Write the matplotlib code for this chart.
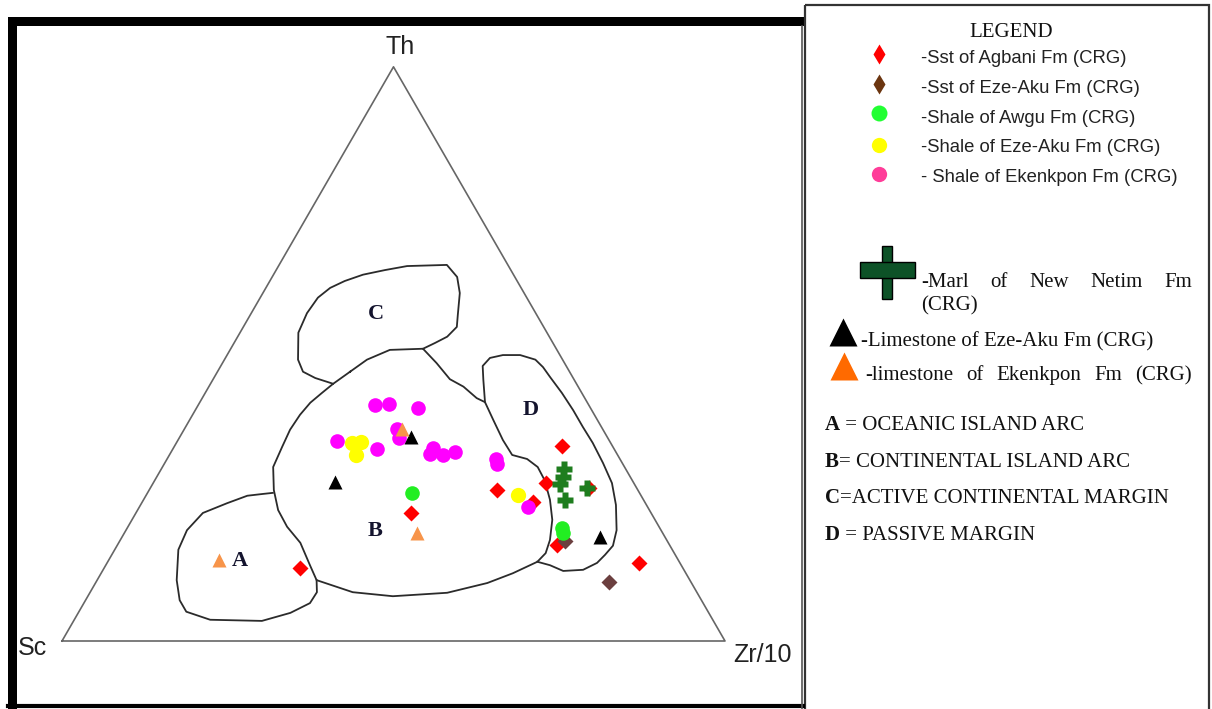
import numpy as np
import matplotlib.pyplot as plt
from matplotlib.patches import Rectangle

plt.rcParams['font.family'] = ['Liberation Sans', 'DejaVu Sans']

### sample compositions, percent of (Th, Sc, Zr/10)
agbani_th = [12.7, 22.3, 26.3, 24.2, 27.5, 34.0, 26.7, 16.7, 13.6]
agbani_sc = [57.8, 36.2, 21.2, 16.9, 13.2, 7.6, 7.1, 17.0, 6.2]
agbani_zr = [29.5, 41.5, 52.5, 58.9, 59.3, 58.4, 66.2, 66.3, 80.2]

ezeaku_sst_th = [10.3, 17.4]
ezeaku_sst_sc = [12.3, 15.4]
ezeaku_sst_zr = [77.4, 67.2]

awgu_th = [25.8, 19.7, 18.8]
awgu_sc = [34.3, 14.7, 15.0]
awgu_zr = [39.9, 65.6, 66.2]

ezeaku_sh_th = [34.5, 34.7, 32.4, 25.4]
ezeaku_sh_sc = [39.0, 37.6, 39.5, 18.5]
ezeaku_sh_zr = [26.5, 27.7, 28.1, 56.1]

ekenkpon_sh_th = [41.1, 41.3, 40.6, 34.8, 33.4, 36.9, 35.4, 33.6, 32.6, 32.4, 32.9, 31.7, 30.8, 23.3]
ekenkpon_sh_sc = [32.3, 30.0, 26.0, 41.1, 35.8, 31.0, 31.5, 27.2, 28.2, 26.3, 24.3, 18.7, 19.0, 18.0]
ekenkpon_sh_zr = [26.6, 28.7, 33.4, 24.1, 30.8, 32.1, 33.1, 39.2, 39.2, 41.3, 42.8, 49.6, 50.2, 58.6]

marl_th = [30.0, 28.6, 27.4, 24.6, 26.7]
marl_sc = [9.3, 10.1, 11.2, 11.8, 7.5]
marl_zr = [60.7, 61.3, 61.4, 63.6, 65.8]

ezeaku_lst_th = [35.5, 27.7, 18.1]
ezeaku_lst_sc = [29.6, 45.0, 9.8]
ezeaku_lst_zr = [34.9, 27.3, 72.1]

ekenkpon_lst_th = [36.9, 18.8, 14.1]
ekenkpon_lst_sc = [30.3, 37.1, 69.3]
ekenkpon_lst_zr = [32.8, 44.1, 16.6]

### field boundaries, (Th, Zr/10) percent, Sc is the rest
field_b = [(46.9, 20.0), (49.0, 21.5), (50.7, 24.1), (50.9, 29.0), (48.4, 32.3), (45.6, 35.7),
           (44.3, 38.4), (42.3, 41.4), (41.6, 43.0), (38.5, 45.8), (35.0, 49.0), (32.4, 51.7),
           (31.7, 54.3), (30.3, 56.6), (28.0, 58.8), (24.6, 61.3), (21.1, 63.4), (17.6, 64.8),
           (15.3, 65.3), (13.8, 64.8), (11.8, 62.1), (10.1, 59.1), (8.4, 53.9), (7.8, 46.0),
           (8.5, 39.6), (10.6, 33.1), (13.2, 30.8), (17.1, 27.4), (19.9, 24.0), (22.8, 21.2),
           (26.3, 18.8), (30.3, 16.7), (33.8, 16.3), (36.8, 16.0), (39.4, 16.2), (41.5, 16.7),
           (43.2, 17.6), (44.8, 18.5), (46.9, 20.0)]
field_c = [(44.8, 18.5), (45.8, 15.3), (46.9, 12.9), (49.0, 11.1), (53.7, 8.8), (57.1, 8.4),
           (59.8, 8.7), (61.5, 9.7), (62.7, 11.3), (63.8, 13.5), (64.6, 16.4), (65.3, 19.4),
           (65.5, 25.3), (63.4, 27.9), (60.6, 29.7), (56.8, 31.3), (54.7, 32.2), (53.0, 31.6),
           (51.9, 30.3), (50.9, 29.0)]
field_a = [(25.8, 18.9), (25.6, 17.4), (25.3, 15.3), (24.0, 12.9), (22.3, 10.1), (19.3, 9.2),
           (15.9, 9.6), (10.6, 12.0), (7.1, 14.2), (5.1, 16.2), (3.7, 20.5), (3.5, 28.4),
           (4.9, 32.0), (6.6, 34.1), (8.5, 34.2), (10.6, 33.1)]
field_d = [(41.6, 43.0), (45.5, 40.8), (47.9, 39.5), (49.3, 39.9), (49.8, 41.6), (49.8, 44.2),
           (49.0, 46.9), (47.7, 48.7), (46.0, 50.6), (43.2, 53.8), (40.2, 57.0), (37.3, 59.9),
           (34.5, 62.8), (31.0, 66.1), (27.5, 69.2), (23.7, 71.7), (19.3, 74.0), (16.6, 74.8),
           (15.0, 74.4), (13.6, 73.9), (12.4, 72.4), (12.2, 69.5), (13.2, 67.0), (13.8, 64.8)]
field_labels = ['A', 'B', 'C', 'D']
field_label_pos = [(13.9, 19.9), (19.2, 37.6), (57.0, 18.9), (40.2, 50.6)]


def tern(th, sc, zr):
    th, sc, zr = (np.asarray(v, float) for v in (th, sc, zr))
    tot = th + sc + zr
    return 100 * (zr + th / 2) / tot, 100 * th * np.sqrt(3) / 2 / tot


def field_xy(pts):
    th, zr = np.array(pts, float).T
    return tern(th, 100 - th - zr, zr)


fig = plt.figure(figsize=(12.12, 7.09), dpi=100)

# overlay in pixel units for frames and legend
lax = fig.add_axes([0, 0, 1, 1])
lax.set_xlim(0, 1212)
lax.set_ylim(709, 0)
lax.axis('off')

# ternary axes, 6.63 px per unit, Sc corner at pixel (62, 641)
ax = fig.add_axes([0, 0, 1, 1])
ax.axis('off')
s = 6.63
ax.set_xlim(-62 / s, (1212 - 62) / s)
ax.set_ylim(-68 / s, (709 - 68) / s)

### frames
lax.add_patch(Rectangle((8, 17), 796, 9, color='black', lw=0))
lax.add_patch(Rectangle((8, 17), 9, 700, color='black', lw=0))
lax.plot([8, 803], [706, 706], color='black', lw=3)
lax.plot([802, 802], [26, 709], color='#555555', lw=1.2)
lax.add_patch(Rectangle((805, 5), 404, 720, fill=False, ec='#333333', lw=1.6))

### triangle
tx, ty = tern([0, 0, 100, 0], [100, 0, 0, 100], [0, 100, 0, 0])
ax.plot(tx, ty, color='#666666', lw=1.2)
ax.annotate('Th', (tx[2], ty[2]), xytext=(5, 9.5), textcoords='offset points',
            ha='center', va='baseline', fontsize=18, color='#222222')
ax.annotate('Sc', (tx[0], ty[0]), xytext=(-10.5, -10), textcoords='offset points',
            ha='right', va='baseline', fontsize=18, color='#222222')
ax.annotate('Zr/10', (tx[1], ty[1]), xytext=(6, -15), textcoords='offset points',
            ha='left', va='baseline', fontsize=18, color='#222222')

### fields
for f in (field_b, field_c, field_a, field_d):
    fx, fy = field_xy(f)
    ax.plot(fx, fy, color='#2b2b2b', lw=1.3)
for lab, (th, zr) in zip(field_labels, field_label_pos):
    lx, ly = tern(th, 100 - th - zr, zr)
    ax.text(lx, ly, lab, ha='center', va='center', fontsize=16, fontweight='bold',
            family='Liberation Serif', color='#14142e')

### samples
series = [
    (agbani_th, agbani_sc, agbani_zr, dict(marker='D', ms=7.8, color='#ff0000')),
    (ezeaku_sst_th, ezeaku_sst_sc, ezeaku_sst_zr, dict(marker='D', ms=7.8, color='#6b3f3f')),
    (awgu_th, awgu_sc, awgu_zr, dict(marker='o', ms=10.5, color='#22ee22')),
    (ezeaku_sh_th, ezeaku_sh_sc, ezeaku_sh_zr, dict(marker='o', ms=11, color='#ffff00')),
    (ekenkpon_sh_th, ekenkpon_sh_sc, ekenkpon_sh_zr, dict(marker='o', ms=10.5, color='#ff00ff')),
    (marl_th, marl_sc, marl_zr, dict(marker='P', ms=11, color='#1e7d1e')),
    (ezeaku_lst_th, ezeaku_lst_sc, ezeaku_lst_zr, dict(marker='^', ms=9.5, color='black')),
    (ekenkpon_lst_th, ekenkpon_lst_sc, ekenkpon_lst_zr, dict(marker='^', ms=9.5, color='#f7944a')),
]
for th, sc, zr, st in series:
    x, y = tern(th, sc, zr)
    ax.plot(x, y, ls='none', mec='none', **st)

### legend panel
lax.text(1011, 37, 'LEGEND', ha='center', va='baseline', fontsize=15,
         family='Liberation Serif', color='#111111')

sans_rows = ['-Sst of Agbani Fm (CRG)', '-Sst of Eze-Aku Fm (CRG)', '-Shale of Awgu Fm (CRG)',
             '-Shale of Eze-Aku Fm (CRG)', '- Shale of Ekenkpon Fm (CRG)']
sans_marks = [dict(marker='d', ms=10, color='#ff0000'), dict(marker='d', ms=10, color='#6b3510'),
              dict(marker='o', ms=11.5, color='#22ff33'), dict(marker='o', ms=11, color='#ffff00'),
              dict(marker='o', ms=11, color='#ff3d99')]
sans_base = [63, 93, 123, 152, 182]
sans_mark_y = [54, 84, 113, 145, 174]
for txt, mk, yb, ym in zip(sans_rows, sans_marks, sans_base, sans_mark_y):
    lax.plot(879, ym, ls='none', mec='none', **mk)
    lax.text(921, yb, txt, va='baseline', fontsize=13.3, color='#222222')

renderer = fig.canvas.get_renderer()


def justify(words, x0, x1, y, **kw):
    texts = [lax.text(x0, y, w, va='baseline', **kw) for w in words]
    widths = [t.get_window_extent(renderer).width for t in texts]
    gap = (x1 - x0 - sum(widths)) / (len(words) - 1)
    x = x0
    for t, w in zip(texts, widths):
        t.set_x(x)
        x += w + gap


serif = dict(family='Liberation Serif', fontsize=15, color='#111111')

# big cross symbol
lax.add_patch(Rectangle((882, 246), 10, 53, fc='#0d5227', ec='black', lw=1))
lax.add_patch(Rectangle((860, 262), 55, 16, fc='#0d5227', ec='black', lw=1))
justify(['-Marl', 'of', 'New', 'Netim', 'Fm'], 921, 1192, 287, **serif)
lax.text(921, 310, '(CRG)', va='baseline', **serif)

lax.plot(843, 331.5, marker='^', ms=20, color='black', mec='none')
lax.text(861, 346, '-Limestone of Eze-Aku Fm (CRG)', va='baseline', **serif)
lax.plot(843.5, 366, marker='^', ms=20, color='#ff6a00', mec='none')
justify(['-limestone', 'of', 'Ekenkpon', 'Fm', '(CRG)'], 865, 1192, 380, **serif)

key_letters = ['A', 'B', 'C', 'D']
key_texts = [' = OCEANIC ISLAND ARC', '= CONTINENTAL ISLAND ARC',
             '=ACTIVE CONTINENTAL MARGIN', ' = PASSIVE MARGIN']
key_base = [430, 467, 503, 540]
for letter, rest, yb in zip(key_letters, key_texts, key_base):
    t = lax.text(825, yb, letter, va='baseline', fontweight='bold', **serif)
    lax.annotate(rest, xy=(1, 0), xycoords=t, ha='left', va='bottom', **serif)

fig.savefig('out.png', dpi=100)
